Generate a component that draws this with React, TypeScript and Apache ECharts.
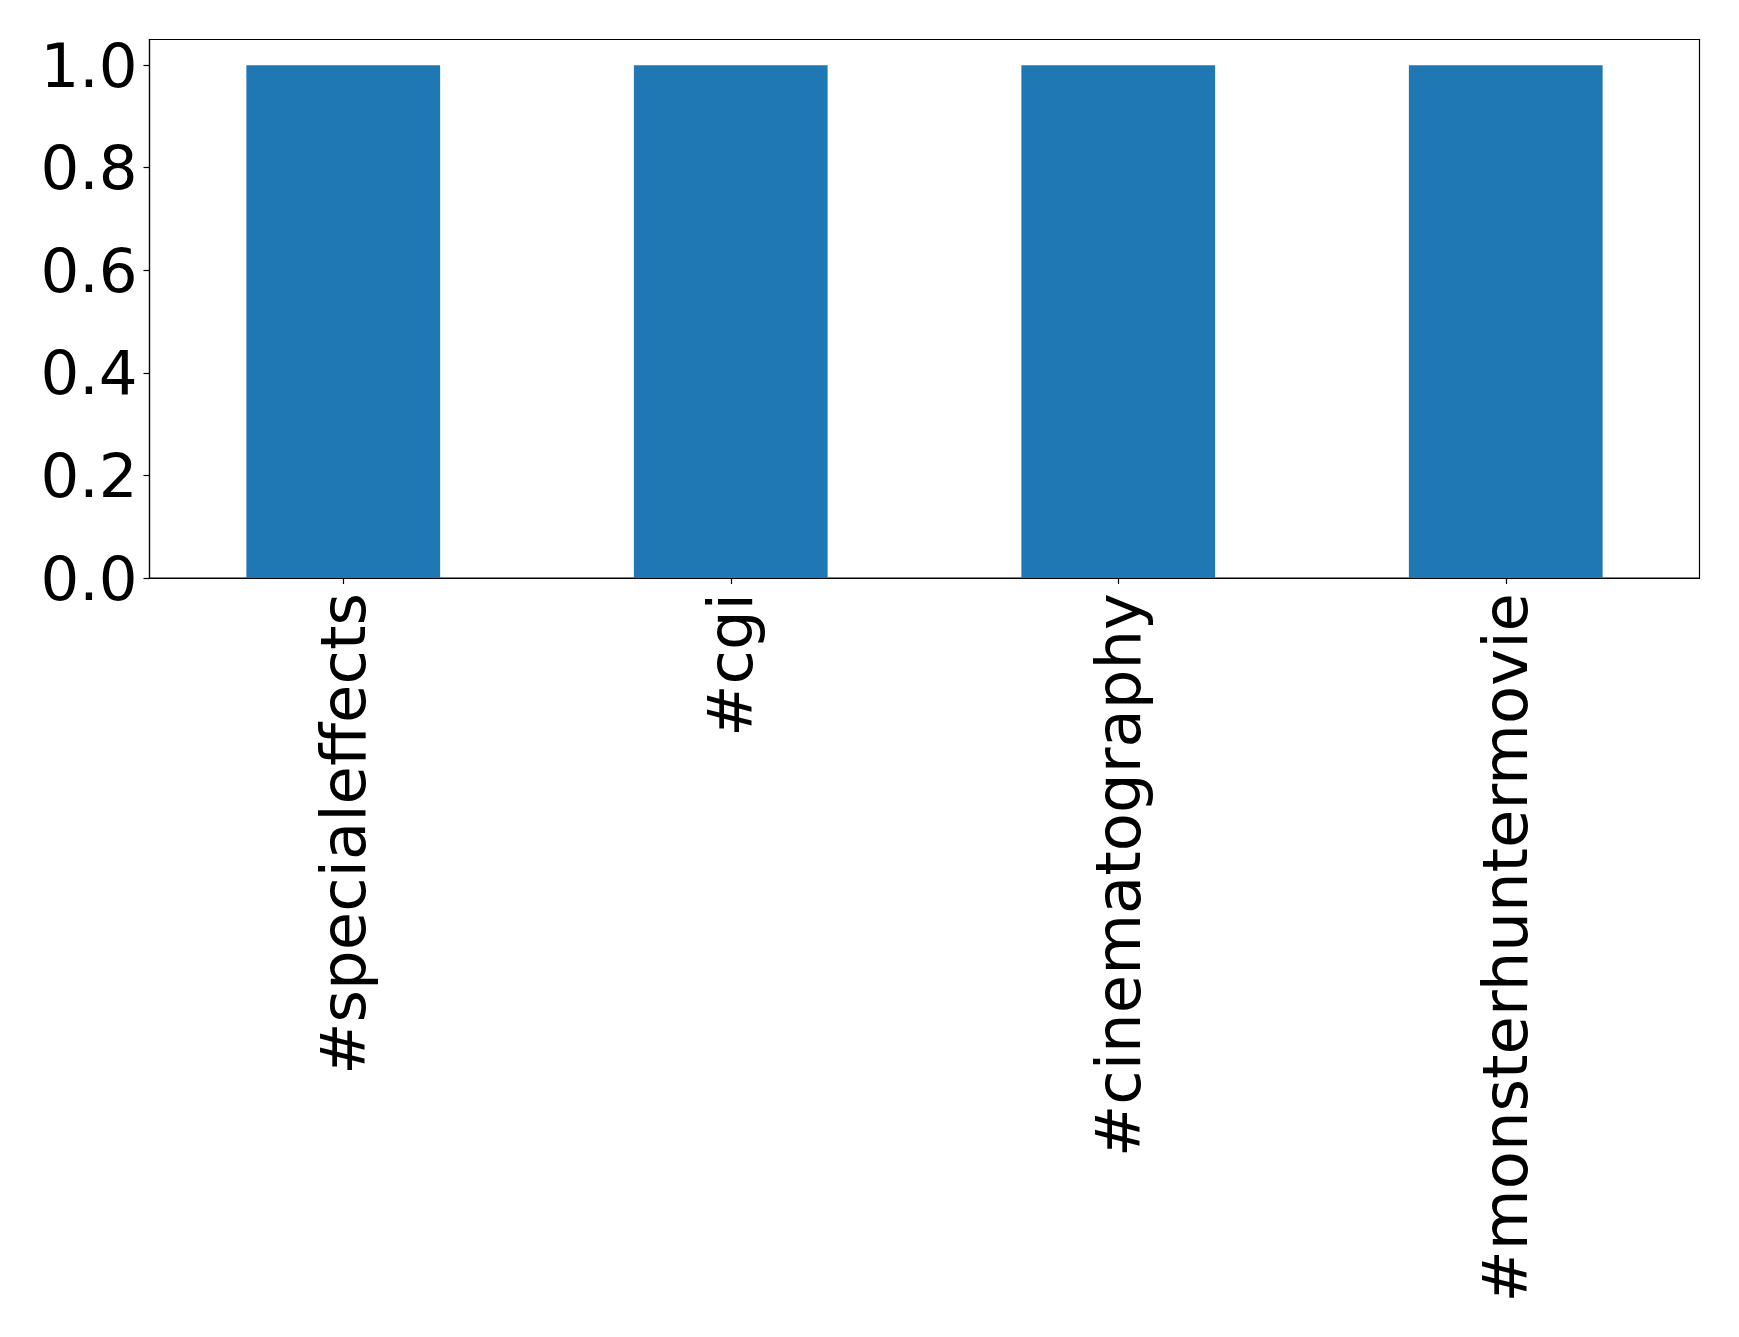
import React, { useEffect, useRef } from "react";
import * as echarts from "echarts";

const categories = ["#specialeffects", "#cgi", "#cinematography", "#monsterhuntermovie"];
const values = [1, 1, 1, 1];
const yTicks = [0, 0.2, 0.4, 0.6, 0.8, 1.0];
const yMin = 0;
const yMax = 1.05;

export default function App() {
  const ref = useRef<HTMLDivElement>(null);
  useEffect(() => {
    if (!ref.current) return;
    const chart = echarts.init(ref.current, null, { renderer: "svg" });
    const font = "DejaVu Sans";
    chart.setOption({
      animation: false,
      backgroundColor: "#ffffff",
      grid: {
        left: 149.5,
        top: 39.5,
        width: 1550,
        height: 538.5,
        show: true,
        borderColor: "#000000",
        borderWidth: 1.2,
        backgroundColor: "transparent",
      },
      xAxis: {
        type: "category",
        data: categories,
        axisLine: { show: true, lineStyle: { color: "#000", width: 1.2 } },
        axisTick: { show: true, alignWithLabel: true, length: 6, lineStyle: { color: "#000", width: 1.2 } },
        axisLabel: {
          rotate: 90,
          interval: 0,
          margin: 15,
          fontSize: 62.5,
          fontFamily: font,
          color: "#000",
        },
        splitLine: { show: false },
      },
      yAxis: {
        type: "value",
        min: yMin,
        max: yMax,
        axisLine: { show: true, lineStyle: { color: "#000", width: 1.2 } },
        axisTick: {
          show: true,
          length: 6,
          lineStyle: { color: "#000", width: 1.2 },
          customValues: yTicks,
        },
        axisLabel: {
          margin: 12,
          fontSize: 61,
          fontFamily: font,
          color: "#000",
          customValues: yTicks,
          formatter: (v: number) => v.toFixed(1),
        },
        splitLine: { show: false },
      },
      series: [
        {
          type: "bar",
          data: values,
          barWidth: "50%",
          itemStyle: { color: "#1f77b4" },
        },
      ],
    });
    return () => chart.dispose();
  }, []);
  return (
    <div
      ref={ref}
      style={{ position: "fixed", left: 0, top: 0, width: 1739, height: 1337, background: "#fff" }}
    />
  );
}
